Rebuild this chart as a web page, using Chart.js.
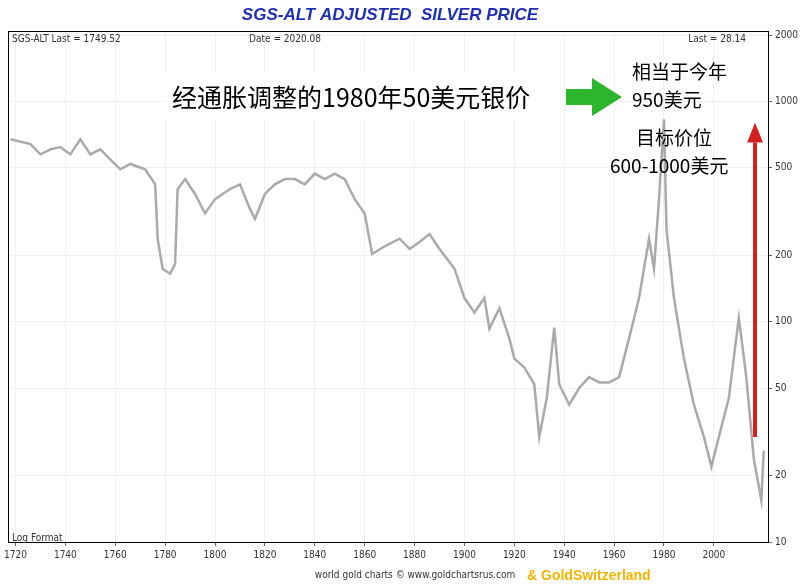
<!DOCTYPE html>
<html>
<head>
<meta charset="utf-8">
<script src="https://cdn.jsdelivr.net/npm/chart.js@4"></script>
<style>body{margin:0;background:#fff}#wrap{width:800px;height:586px}</style>
</head>
<body>
<div id="wrap"><canvas id="c"></canvas></div>
<script>
// 연도 / 가격 (로그축)
var years = [1718,1726,1730,1734,1738,1742,1746,1750,1754,1758,1762,1766,1772,1776,1777,1779,1782,1784,1785,1788,1792,1796,1800,1806,1810,1814,1816,1820,1824,1828,1832,1836,1840,1844,1848,1852,1856,1860,1863,1868,1874,1878,1882,1886,1890,1896,1900,1904,1908,1910,1914,1918,1920,1924,1928,1930,1933,1936,1938,1942,1946,1950,1954,1958,1962,1966,1970,1974,1976,1978,1980,1981,1984,1988,1992,1996,1999,2002,2006,2010,2013,2016,2019,2020];
var prices = [673,640,575,606,620,575,673,575,606,546,492,520,492,420,238,174,165,183,400,444,380,310,360,400,420,325,293,380,420,444,444,420,470,444,470,444,360,310,203,220,238,214,230,250,214,174,128,110,128,93,115,84,68,62,52,30,45,94,52,42,50,56,53,53,56,84,128,238,174,360,830,264,128,68,42,30,22,30,45,104,56,24,15.5,26];
var xTicks = [1720,1740,1760,1780,1800,1820,1840,1860,1880,1900,1920,1940,1960,1980,2000];
var yTicks = [10,20,50,100,200,500,1000,2000];

var deco = {
  id:'deco',
  afterDraw: function(ch){
    var c = ch.ctx, a = ch.chartArea, x = ch.scales.x, y = ch.scales.y;
    c.save();
    c.strokeStyle='#000'; c.lineWidth=1; c.strokeRect(a.left+0.5,a.top+0.5,a.right-a.left,a.bottom-a.top);
    c.fillStyle='#1f2fb5'; c.font='italic bold 17px "Liberation Sans"'; c.textAlign='center';
    c.fillText('SGS-ALT ADJUSTED  SILVER PRICE',390,20);
    c.fillStyle='#333'; c.font='10px "DejaVu Sans Condensed"';
    c.textAlign='left'; c.fillText('SGS-ALT Last = 1749.52',12,42);
    c.fillText('Log Format',12,541);
    c.textAlign='center'; c.fillText('Date = 2020.08',285,42);
    c.textAlign='right'; c.fillText('Last = 28.14',746,42);
    c.textAlign='center'; c.fillText('world gold charts \u00a9 www.goldchartsrus.com',415,578);
    c.fillStyle='#f2b400'; c.font='bold 14px "Liberation Sans"'; c.textAlign='left';
    c.fillText('& GoldSwitzerland',527,580);
    // 흰 박스 + 중국어 텍스트
    c.fillStyle='#fff'; c.fillRect(165,74,395,46);
    c.fillStyle='#000'; c.font='25px "Noto Sans CJK SC"'; c.textAlign='left'; c.textBaseline='middle';
    c.fillText('经通胀调整的1980年50美元银价',172,97);
    c.font='19px "Noto Sans CJK SC"';
    c.fillText('相当于今年',632,72); c.fillText('950美元',632,100);
    c.fillText('目标价位',636,138); c.fillText('600-1000美元',610,166);
    // 녹색 화살표
    c.fillStyle='#2db52d'; c.beginPath();
    c.moveTo(566,89);c.lineTo(592,89);c.lineTo(592,78);c.lineTo(622,97);c.lineTo(592,116);c.lineTo(592,105);c.lineTo(566,105);c.closePath();c.fill();
    // 빨간 화살표
    var ax = x.getPixelForValue(2016.5);
    c.strokeStyle='#d42020'; c.lineWidth=4; c.beginPath();
    c.moveTo(ax,y.getPixelForValue(30)); c.lineTo(ax,y.getPixelForValue(650)); c.stroke();
    c.fillStyle='#d42020'; c.beginPath();
    c.moveTo(ax-8,y.getPixelForValue(650)); c.lineTo(ax+8,y.getPixelForValue(650)); c.lineTo(ax,y.getPixelForValue(800)); c.closePath(); c.fill();
    c.restore();
  }
};

new Chart(document.getElementById('c'), {
  type:'scatter',
  data:{datasets:[{data:years.map(function(v,i){return {x:v,y:prices[i]};}),showLine:true,borderColor:'#aaaaaa',borderWidth:2.5,pointRadius:0,tension:0}]},
  options:{
    responsive:true, maintainAspectRatio:false, animation:false,
    layout:{padding:{left:8,top:31,right:0,bottom:22}},
    plugins:{legend:{display:false},tooltip:{enabled:false}},
    scales:{
      x:{type:'linear',min:1717,max:2021.7,
        afterBuildTicks:function(s){s.ticks=xTicks.map(function(v){return {value:v};});},
        grid:{color:'#f0f0f0',drawTicks:true,tickLength:4,tickColor:'#666'},border:{display:false},
        ticks:{color:'#333',font:{size:10,family:'DejaVu Sans Condensed'},maxRotation:0,autoSkip:false,padding:3,callback:function(v){return v;}}},
      y:{type:'logarithmic',position:'right',min:10,max:2087,
        afterBuildTicks:function(s){s.ticks=yTicks.map(function(v){return {value:v};});},
        afterFit:function(s){s.width=32;},
        grid:{color:'#f0f0f0',tickLength:4,tickColor:'#666'},border:{display:false},
        ticks:{color:'#333',font:{size:10,family:'DejaVu Sans Condensed'},autoSkip:false,padding:3,callback:function(v){return v;}}}
    }
  },
  plugins:[deco]
});
</script>
</body>
</html>
